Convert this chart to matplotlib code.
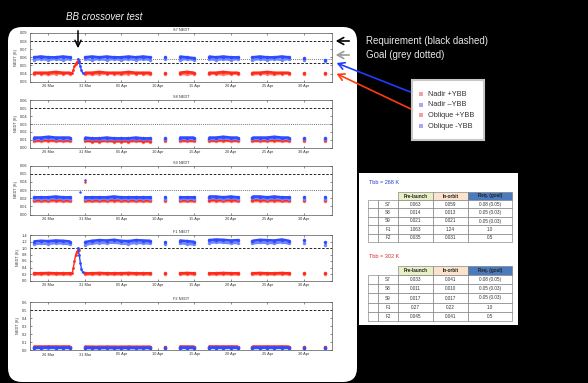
import matplotlib
matplotlib.use("Agg")
import matplotlib.pyplot as plt
from matplotlib.patches import FancyBboxPatch, Rectangle
from matplotlib.ticker import FormatStrFormatter

plt.rcParams['font.family'] = ['Liberation Sans', 'DejaVu Sans']

W, H = 588, 383
nan = float('nan')

# observation days, numbered as day of March 2016 (32 = 1 Apr)
days = [24, 25, 26, 27, 28, 29, 30, 31, 32, 33, 34, 35, 36, 37, 38, 39, 40,
        41, 42, 43, 44, 45, 46, 47, 48, 49, 50, 51, 52, 53, 54, 55, 56, 57,
        58, 59, 60, 61, 62, 63, 64]

tick_days = [26, 31, 36, 41, 46, 51, 56, 61]
tick_labels = ["26 Mar", "31 Mar", "05 Apr", "10 Apr", "15 Apr", "20 Apr", "25 Apr", "30 Apr"]

panel_titles = ["S7 NEDT", "S8 NEDT", "S9 NEDT", "F1 NEDT", "F2 NEDT"]

# ---- S7 ----
s7_nadir_minus = [0.060, 0.061, 0.060, 0.060, 0.061, 0.060, nan,
                  0.060, 0.061, 0.060, 0.061, 0.060, 0.060, 0.061, 0.060, 0.061, 0.060, nan,
                  0.060, nan,
                  0.061, 0.060, 0.059, nan,
                  0.061, 0.060, 0.061, 0.060, 0.060, nan,
                  0.060, 0.061, 0.060, 0.060, 0.061, 0.060, nan,
                  0.059, nan, nan, 0.057]
s7_oblique_minus = [0.057, 0.058, 0.057, 0.058, 0.057, 0.058, nan,
                    0.058, 0.057, 0.058, 0.057, 0.058, 0.057, 0.058, 0.057, 0.058, 0.057, nan,
                    0.058, nan,
                    0.057, 0.058, 0.057, nan,
                    0.058, 0.057, 0.058, 0.057, 0.058, nan,
                    0.057, 0.058, 0.057, 0.058, 0.057, 0.058, nan,
                    0.057, nan, nan, 0.056]
s7_nadir_plus = [0.041, 0.041, 0.041, 0.042, 0.041, 0.041, nan,
                 0.041, 0.041, 0.042, 0.041, 0.041, 0.041, 0.042, 0.041, 0.041, 0.041, nan,
                 0.041, nan,
                 0.041, 0.042, 0.041, nan,
                 0.041, 0.041, 0.042, 0.041, 0.041, nan,
                 0.041, 0.041, 0.042, 0.041, 0.041, 0.041, nan,
                 0.041, nan, nan, 0.041]
s7_oblique_plus = [0.040, 0.040, 0.039, 0.040, 0.040, 0.040, nan,
                   0.040, 0.039, 0.040, 0.040, 0.040, 0.039, 0.040, 0.040, 0.040, 0.039, nan,
                   0.040, nan,
                   0.040, 0.039, 0.040, nan,
                   0.040, 0.040, 0.039, 0.040, 0.040, nan,
                   0.039, 0.040, 0.040, 0.039, 0.040, 0.040, nan,
                   0.040, nan, nan, 0.040]

# ---- S8 ----
s8_nadir_minus = [0.013, 0.013, 0.014, 0.013, 0.013, 0.013, nan,
                  0.013, 0.012, 0.012, 0.013, 0.012, 0.012, 0.012, 0.013, 0.012, 0.012, nan,
                  0.013, nan,
                  0.013, 0.013, 0.013, nan,
                  0.013, 0.013, 0.014, 0.013, 0.013, nan,
                  0.013, 0.013, 0.013, 0.014, 0.013, 0.013, nan,
                  0.013, nan, nan, 0.013]
s8_oblique_minus = [0.0115, 0.0115, 0.012, 0.0115, 0.0115, 0.0115, nan,
                    0.0115, 0.011, 0.011, 0.011, 0.011, 0.011, 0.011, 0.0115, 0.011, 0.011, nan,
                    0.0115, nan,
                    0.0115, 0.0115, 0.0115, nan,
                    0.0115, 0.0115, 0.012, 0.0115, 0.0115, nan,
                    0.0115, 0.0115, 0.0115, 0.012, 0.0115, 0.0115, nan,
                    0.0115, nan, nan, 0.0115]
s8_nadir_plus = [0.0095, 0.0095, 0.010, 0.0095, 0.0095, 0.0095, nan,
                 0.0095, 0.009, 0.009, 0.0095, 0.009, 0.009, 0.009, 0.0095, 0.009, 0.009, nan,
                 0.0095, nan,
                 0.0095, 0.0095, 0.0095, nan,
                 0.0095, 0.0095, 0.010, 0.0095, 0.0095, nan,
                 0.0095, 0.0095, 0.0095, 0.010, 0.0095, 0.0095, nan,
                 0.0095, nan, nan, 0.0095]
s8_oblique_plus = [0.0085, 0.0085, 0.009, 0.0085, 0.0085, 0.0085, nan,
                   0.0085, 0.008, 0.008, 0.0085, 0.008, 0.008, 0.008, 0.0085, 0.008, 0.008, nan,
                   0.0085, nan,
                   0.0085, 0.0085, 0.0085, nan,
                   0.0085, 0.0085, 0.009, 0.0085, 0.0085, nan,
                   0.0085, 0.0085, 0.0085, 0.009, 0.0085, 0.0085, nan,
                   0.0085, nan, nan, 0.0085]

# ---- S9 ----
s9_nadir_minus = [0.021, 0.021, 0.021, 0.022, 0.021, 0.021, nan,
                  0.021, 0.021, 0.021, 0.021, 0.022, 0.021, 0.021, 0.021, 0.021, 0.021, nan,
                  0.021, nan,
                  0.021, 0.021, 0.021, nan,
                  0.022, 0.022, 0.021, 0.022, 0.021, nan,
                  0.022, 0.022, 0.021, 0.022, 0.021, 0.021, nan,
                  0.021, nan, nan, 0.021]
s9_oblique_minus = [0.0195, 0.0195, 0.0195, 0.020, 0.0195, 0.0195, nan,
                    0.0195, 0.0195, 0.0195, 0.0195, 0.020, 0.0195, 0.0195, 0.0195, 0.0195, 0.0195, nan,
                    0.0195, nan,
                    0.0195, 0.0195, 0.0195, nan,
                    0.020, 0.020, 0.0195, 0.020, 0.0195, nan,
                    0.020, 0.020, 0.0195, 0.020, 0.0195, 0.0195, nan,
                    0.0195, nan, nan, 0.0195]
s9_nadir_plus = [0.0175, 0.0175, 0.0175, 0.018, 0.0175, 0.0175, nan,
                 0.0175, 0.0175, 0.0175, 0.0175, 0.018, 0.0175, 0.0175, 0.0175, 0.0175, 0.0175, nan,
                 0.0175, nan,
                 0.0175, 0.0175, 0.0175, nan,
                 0.018, 0.018, 0.0175, 0.018, 0.0175, nan,
                 0.018, 0.018, 0.0175, 0.018, 0.0175, 0.0175, nan,
                 0.0175, nan, nan, 0.0175]
s9_oblique_plus = [0.016, 0.016, 0.016, 0.0165, 0.016, 0.016, nan,
                   0.016, 0.016, 0.016, 0.016, 0.0165, 0.016, 0.016, 0.016, 0.016, 0.016, nan,
                   0.016, nan,
                   0.016, 0.016, 0.016, nan,
                   0.0165, 0.0165, 0.016, 0.0165, 0.016, nan,
                   0.0165, 0.0165, 0.016, 0.0165, 0.016, 0.016, nan,
                   0.016, nan, nan, 0.016]

# ---- F1 ----
f1_nadir_minus = [1.20, 1.22, 1.21, 1.23, 1.22, 1.20, nan,
                  1.18, 1.22, 1.24, 1.23, 1.25, 1.22, 1.21, 1.24, 1.23, 1.22, nan,
                  1.20, nan,
                  1.23, 1.21, 1.19, nan,
                  1.24, 1.26, 1.25, 1.23, 1.24, nan,
                  1.22, 1.25, 1.24, 1.23, 1.26, 1.22, nan,
                  1.24, nan, nan, 1.17]
f1_oblique_minus = [1.12, 1.14, 1.13, 1.15, 1.14, 1.12, nan,
                    1.10, 1.14, 1.16, 1.15, 1.17, 1.14, 1.13, 1.16, 1.15, 1.14, nan,
                    1.12, nan,
                    1.15, 1.13, 1.11, nan,
                    1.16, 1.18, 1.17, 1.15, 1.16, nan,
                    1.14, 1.17, 1.16, 1.15, 1.18, 1.14, nan,
                    1.16, nan, nan, 1.10]
f1_nadir_plus = [0.22, 0.22, 0.23, 0.22, 0.22, 0.22, nan,
                 0.22, 0.22, 0.23, 0.22, 0.22, 0.22, 0.23, 0.22, 0.22, 0.22, nan,
                 0.22, nan,
                 0.22, 0.23, 0.22, nan,
                 0.22, 0.22, 0.23, 0.22, 0.22, nan,
                 0.22, 0.23, 0.22, 0.22, 0.23, 0.22, nan,
                 0.22, nan, nan, 0.22]
f1_oblique_plus = [0.19, 0.19, 0.20, 0.19, 0.19, 0.19, nan,
                   0.19, 0.19, 0.20, 0.19, 0.19, 0.19, 0.20, 0.19, 0.19, 0.19, nan,
                   0.19, nan,
                   0.19, 0.20, 0.19, nan,
                   0.19, 0.19, 0.20, 0.19, 0.19, nan,
                   0.19, 0.20, 0.19, 0.19, 0.20, 0.19, nan,
                   0.19, nan, nan, 0.19]

# ---- F2 ----
f2_nadir_minus = [0.030, 0.030, 0.032, 0.030, 0.030, 0.031, nan,
                  0.030, 0.028, 0.028, 0.029, 0.028, 0.028, 0.029, 0.028, 0.028, 0.029, nan,
                  0.030, nan,
                  0.031, 0.030, 0.030, nan,
                  0.031, 0.031, 0.030, 0.031, 0.030, nan,
                  0.031, 0.030, 0.031, 0.030, 0.031, 0.030, nan,
                  0.030, nan, nan, 0.031]
f2_oblique_minus = [0.024, 0.024, 0.025, 0.024, 0.024, 0.025, nan,
                    0.024, 0.022, 0.022, 0.023, 0.022, 0.022, 0.023, 0.022, 0.022, 0.023, nan,
                    0.024, nan,
                    0.025, 0.024, 0.024, nan,
                    0.025, 0.025, 0.024, 0.025, 0.024, nan,
                    0.025, 0.024, 0.025, 0.024, 0.025, 0.024, nan,
                    0.024, nan, nan, 0.025]
f2_nadir_plus = [0.042, 0.042, 0.043, 0.042, 0.042, 0.043, nan,
                 0.042, 0.040, 0.040, 0.041, 0.040, 0.040, 0.041, 0.040, 0.040, 0.041, nan,
                 0.042, nan,
                 0.043, 0.042, 0.042, nan,
                 0.043, 0.043, 0.042, 0.043, 0.042, nan,
                 0.043, 0.042, 0.043, 0.042, 0.043, 0.042, nan,
                 0.042, nan, nan, 0.043]
f2_oblique_plus = [0.036, 0.036, 0.037, 0.036, 0.036, 0.037, nan,
                   0.036, 0.034, 0.034, 0.035, 0.034, 0.034, 0.035, 0.034, 0.034, 0.035, nan,
                   0.036, nan,
                   0.037, 0.036, 0.036, nan,
                   0.037, 0.037, 0.036, 0.037, 0.036, nan,
                   0.037, 0.036, 0.037, 0.036, 0.037, 0.036, nan,
                   0.036, nan, nan, 0.037]

# blackbody crossover test (hot/cold blackbody swap)
cross_days_plus = [29.3, 29.45, 29.6, 29.75, 29.9, 30.05, 30.2]
cross_days_minus = [30.1, 30.25, 30.4, 30.55, 30.7]
s7_cross_plus = [0.041, 0.045, 0.049, 0.052, 0.054, 0.055, 0.055]
s7_cross_minus = [0.058, 0.054, 0.049, 0.044, 0.041]
f1_cross_plus = [0.22, 0.40, 0.60, 0.78, 0.88, 0.93, 0.95]
f1_cross_minus = [1.00, 0.78, 0.55, 0.36, 0.25]

# S9 isolated points after the crossover
s9_spike_days_minus = [30.4, 31.0]
s9_spike_minus = [0.027, 0.042]
s9_spike_days_plus = [31.1]
s9_spike_plus = [0.040]

# requirement (dashed) and goal (dotted) levels
req_levels = [0.08, 0.05, 0.05, 1.0, 0.5]
req2_levels = [0.053, None, None, None, None]
goal_levels = [0.058, 0.03, 0.03, None, None]

y_limits = [(0.03, 0.09), (0.0, 0.06), (0.0, 0.06), (0.0, 1.4), (0.0, 0.6)]
y_ticks = [[0.03, 0.04, 0.05, 0.06, 0.07, 0.08, 0.09],
           [0.0, 0.01, 0.02, 0.03, 0.04, 0.05, 0.06],
           [0.0, 0.01, 0.02, 0.03, 0.04, 0.05, 0.06],
           [0.0, 0.2, 0.4, 0.6, 0.8, 1.0, 1.2, 1.4],
           [0.0, 0.1, 0.2, 0.3, 0.4, 0.5, 0.6]]
y_formats = ['%.2f', '%.2f', '%.2f', '%.1f', '%.1f']

series = [
    (s7_oblique_plus, s7_nadir_plus, s7_oblique_minus, s7_nadir_minus),
    (s8_oblique_plus, s8_nadir_plus, s8_oblique_minus, s8_nadir_minus),
    (s9_oblique_plus, s9_nadir_plus, s9_oblique_minus, s9_nadir_minus),
    (f1_oblique_plus, f1_nadir_plus, f1_oblique_minus, f1_nadir_minus),
    (f2_oblique_plus, f2_nadir_plus, f2_oblique_minus, f2_nadir_minus),
]
series_colors = ['#ff7a6a', '#ff2a1a', '#6f86ff', '#2f4bff']

# Tables of NEDT at the two blackbody temperatures
table_cols = ["Pre-launch", "In-orbit", "Req. (goal)"]
table_rows = ["S7", "S8", "S9", "F1", "F2"]
cold_prelaunch = ["0.063", "0.014", "0.021", "1.063", "0.035"]
cold_inorbit = ["0.059", "0.013", "0.021", "1.24", "0.031"]
cold_req = ["0.08 (0.05)", "0.05 (0.03)", "0.05 (0.03)", "1.0", "0.5"]
hot_prelaunch = ["0.033", "0.011", "0.017", "0.27", "0.045"]
hot_inorbit = ["0.041", "0.010", "0.017", "0.22", "0.041"]
hot_req = ["0.08 (0.05)", "0.05 (0.03)", "0.05 (0.03)", "1.0", "0.5"]

legend_labels = ["Nadir +YBB", "Nadir \u2013YBB", "Oblique +YBB", "Oblique -YBB"]
legend_colors = ['#f4a0a0', '#a8a8f0', '#f4a0a0', '#a8a8f0']

# ------------------------------------------------------------------
fig = plt.figure(figsize=(W / 100, H / 100), dpi=100, facecolor='black')

bg = fig.add_axes([0, 0, 1, 1], zorder=0)
bg.set_xlim(0, W)
bg.set_ylim(H, 0)
bg.axis('off')
bg.add_patch(FancyBboxPatch((8, 27), 349, 355,
                            boxstyle="round,pad=0,rounding_size=14",
                            facecolor='white', edgecolor='none'))

# axes boxes in pixel units: (left, top, right, bottom)
boxes = [(30, 33, 332, 81.7), (30, 100, 332, 148), (30, 165.5, 332, 214.5),
         (30, 235, 332, 280.5), (30, 302, 332, 350)]

panels = []
for k, (l, t, r, b) in enumerate(boxes):
    ax = fig.add_axes([l / W, 1 - b / H, (r - l) / W, (b - t) / H], zorder=2)
    ax.set_facecolor('white')
    for sp in ax.spines.values():
        sp.set_color('#555555')
        sp.set_linewidth(0.5)
    ax.set_xlim(23.5, 64.9)
    ax.set_ylim(*y_limits[k])
    ax.set_xticks(tick_days)
    ax.set_xticklabels(tick_labels)
    ax.set_yticks(y_ticks[k])
    ax.yaxis.set_major_formatter(FormatStrFormatter(y_formats[k]))
    ax.tick_params(direction='in', length=1.6, width=0.4, labelsize=2.8,
                   top=True, right=True, pad=1.8, colors='#333333')
    ax.set_title(panel_titles[k], fontsize=2.8, pad=1.2, color='#333333')
    ax.set_ylabel("NEDT (K)", fontsize=2.8, labelpad=1.5, color='#333333')

    ax.axhline(req_levels[k], color='black', lw=0.6, ls=(0, (3, 2)), zorder=1)
    if req2_levels[k] is not None:
        ax.axhline(req2_levels[k], color='black', lw=0.6, ls=(0, (3, 2)), zorder=1)
    if goal_levels[k] is not None:
        ax.axhline(goal_levels[k], color='#555555', lw=0.6, ls=(0, (1, 1.3)), zorder=1)

    for vals, col in zip(series[k], series_colors):
        ax.plot(days, vals, color=col, lw=1.9, marker='o', ms=2.5, mew=0,
                solid_capstyle='butt', zorder=3)
    panels.append(ax)

for ax, cp, cm in [(panels[0], s7_cross_plus, s7_cross_minus),
                   (panels[3], f1_cross_plus, f1_cross_minus)]:
    ax.plot(cross_days_plus, cp, color='#ff2a1a', lw=1.0, marker='o', ms=2.0, mew=0, zorder=3)
    ax.plot(cross_days_minus, cm, color='#2f4bff', lw=1.0, marker='o', ms=2.0, mew=0, zorder=3)

panels[2].plot(s9_spike_days_minus, s9_spike_minus, ls='none', marker='o', ms=1.8,
               mew=0, color='#2f4bff', zorder=3)
panels[2].plot(s9_spike_days_plus, s9_spike_plus, ls='none', marker='o', ms=1.8,
               mew=0, color='#ff2a1a', zorder=3)

# ------------------------------------------------------------------
ov = fig.add_axes([0, 0, 1, 1], zorder=5)
ov.set_xlim(0, W)
ov.set_ylim(H, 0)
ov.axis('off')
ov.patch.set_alpha(0)

ov.text(104, 17, "BB crossover test", color='#f2f2f2', fontsize=7,
        style='italic', ha='center', va='center')
ov.annotate('', xy=(78, 51), xytext=(78, 28),
            arrowprops=dict(arrowstyle='->,head_length=0.45,head_width=0.22',
                            color='black', lw=1.1))

ov.annotate('', xy=(333, 41), xytext=(352, 41),
            arrowprops=dict(arrowstyle='->,head_length=0.45,head_width=0.25',
                            color='black', lw=1.2))
ov.annotate('', xy=(333, 55), xytext=(352, 55),
            arrowprops=dict(arrowstyle='->,head_length=0.45,head_width=0.25',
                            color='#9a9a9a', lw=1.2))
ov.annotate('', xy=(334, 62), xytext=(413, 93),
            arrowprops=dict(arrowstyle='->,head_length=0.45,head_width=0.25',
                            color='#1f3cff', lw=1.2))
ov.annotate('', xy=(334, 72.5), xytext=(413, 110),
            arrowprops=dict(arrowstyle='->,head_length=0.45,head_width=0.25',
                            color='#ff3a10', lw=1.2))

ov.text(366, 41, "Requirement (black dashed)", color='#e8e8e8', fontsize=7,
        ha='left', va='center')
ov.text(366, 55, "Goal (grey dotted)", color='#e8e8e8', fontsize=7,
        ha='left', va='center')

# legend box
ov.add_patch(Rectangle((412, 80), 72, 60, facecolor='white',
                       edgecolor='#c8c8c8', lw=1.5))
for i, (lab, col) in enumerate(zip(legend_labels, legend_colors)):
    y = 94 + i * 10.7
    ov.plot([421], [y], ls='none', marker='s', ms=2.2, mew=0, color=col)
    ov.text(428, y, lab, fontsize=5.3, color='#333333', ha='left', va='center')

# tables
ov.add_patch(Rectangle((359, 173), 159, 152, facecolor='white', edgecolor='none'))
col_edges = [368, 378, 398, 433, 468, 512]
head_fills = ['#e7efc4', '#fbe2cc', '#4a7bbf']


def draw_table(title, title_color, title_y, head_top, head_h, row_h, pre, orbit, req):
    ov.text(369, title_y, title, fontsize=4, color=title_color, ha='left', va='center')
    for j in range(3):
        x0, x1 = col_edges[j + 2], col_edges[j + 3]
        ov.add_patch(Rectangle((x0, head_top), x1 - x0, head_h, facecolor=head_fills[j],
                               edgecolor='#707070', lw=0.4))
        ov.text((x0 + x1) / 2, head_top + head_h / 2, table_cols[j], fontsize=3.3,
                color='#222222', ha='center', va='center', fontweight='bold')
    body_top = head_top + head_h
    for i, name in enumerate(table_rows):
        y0 = body_top + i * row_h
        cells = ["", name, pre[i], orbit[i], req[i]]
        for j in range(5):
            x0, x1 = col_edges[j], col_edges[j + 1]
            ov.add_patch(Rectangle((x0, y0), x1 - x0, row_h, facecolor='white',
                                   edgecolor='#707070', lw=0.4))
            if cells[j]:
                ov.text((x0 + x1) / 2, y0 + row_h / 2, cells[j], fontsize=3.3,
                        color='#333333', ha='center', va='center')


draw_table("Tbb = 268 K", '#2a3ad8', 183, 192, 8, 8.4,
           cold_prelaunch, cold_inorbit, cold_req)
draw_table("Tbb = 302 K", '#e02a2a', 256, 266, 9, 9.2,
           hot_prelaunch, hot_inorbit, hot_req)

fig.savefig("out.png", dpi=100, facecolor='black')
